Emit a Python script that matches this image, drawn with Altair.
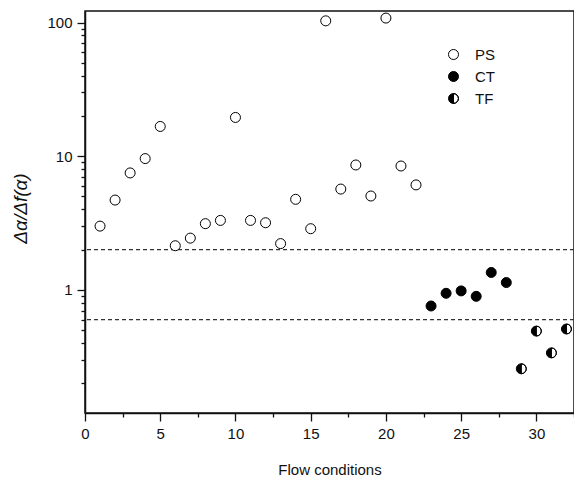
import altair as alt
import pandas as pd

# ---- data ----
ps_x = list(range(1, 23))
ps_y = [3.0, 4.7, 7.5, 9.6, 16.7, 2.14, 2.44, 3.13, 3.31, 19.5, 3.31, 3.18,
        2.22, 4.76, 2.87, 103, 5.68, 8.6, 5.04, 108, 8.45, 6.1]
ct_x = [23, 24, 25, 26, 27, 28]
ct_y = [0.758, 0.943, 0.983, 0.895, 1.35, 1.135]
tf_x = [29, 30, 31, 32]
tf_y = [0.257, 0.492, 0.338, 0.51]
thresholds = [2.0, 0.6]

groups = ["PS", "CT", "TF"]
x_ticks = [0, 2.5, 5, 7.5, 10, 12.5, 15, 17.5, 20, 22.5, 25, 27.5, 30, 32.5]
y_ticks = [0.2, 0.3, 0.4, 0.5, 0.6, 0.7, 0.8, 0.9,
           1, 2, 3, 4, 5, 6, 7, 8, 9,
           10, 20, 30, 40, 50, 60, 70, 80, 90, 100]

rows = ([{"x": a, "y": b, "type": "PS"} for a, b in zip(ps_x, ps_y)] +
        [{"x": a, "y": b, "type": "CT"} for a, b in zip(ct_x, ct_y)] +
        [{"x": a, "y": b, "type": "TF"} for a, b in zip(tf_x, tf_y)])
df = pd.DataFrame(rows)
df_lines = pd.DataFrame({"y": thresholds})

FONT = "Liberation Sans"
half_shape = ("M 0 -1 A 1 1 0 0 0 0 1 Z "
              "M 0 -1 A 1 1 0 0 1 0 1 L 0 0.97 A 0.97 0.97 0 0 0 0 -0.97 Z")

x_scale = alt.Scale(domain=[0, 32.5], nice=False, zero=False)
y_scale = alt.Scale(type="log", domain=[0.12, 122], nice=False)

x_axis = alt.Axis(
    values=x_ticks, title="Flow conditions",
    labelExpr="datum.value % 5 == 0 ? datum.label : ''",
    tickSize={"condition": {"test": "datum.value % 5 == 0", "value": 8}, "value": 4},
    labelFlush=False, labelOverlap=False, labelPadding=5,
    titlePadding=21, grid=False)

major = "abs(log(datum.value)/LN10 - round(log(datum.value)/LN10)) < 0.001"
y_axis = alt.Axis(
    values=y_ticks, title="Δα/Δf(α)",
    labelExpr=f"{major} ? format(datum.value, 'd') : ''",
    tickSize={"condition": {"test": major, "value": 8}, "value": 4},
    labelOverlap=False, labelPadding=5, grid=False,
    titleX=-65, titleY=197, titleAngle=270, titleBaseline="middle",
    titleAlign="center", titleFontStyle="italic", titleFontSize=19)

legend = alt.Legend(title=None, orient="none", legendX=361, legendY=36,
                    padding=0, rowPadding=6, labelOffset=14,
                    symbolSize=100, symbolStrokeWidth=1, symbolOpacity=1,
                    labelFontSize=15, labelFont=FONT, labelColor="#111")

lines = alt.Chart(df_lines).mark_rule(
    color="#333", strokeWidth=1.2, strokeDash=[4, 3]
).encode(y=alt.Y("y:Q", scale=y_scale, axis=y_axis))

points = alt.Chart(df).mark_point(
    filled=True, strokeWidth=1, opacity=1, size=100
).encode(
    x=alt.X("x:Q", scale=x_scale, axis=x_axis),
    y=alt.Y("y:Q", scale=y_scale, axis=y_axis),
    shape=alt.Shape("type:N", scale=alt.Scale(domain=groups,
                    range=["circle", "circle", half_shape]), legend=legend),
    fill=alt.Fill("type:N", scale=alt.Scale(domain=groups,
                  range=["white", "black", "black"]), legend=legend),
    stroke=alt.Stroke("type:N", scale=alt.Scale(domain=groups,
                      range=["black", "black", "black"]), legend=legend),
)

chart = alt.layer(lines, points).properties(
    width=489, height=402,
    autosize=alt.AutoSizeParams(type="none"),
    padding={"left": 77, "top": 3, "right": 0, "bottom": 64},
).configure_view(
    stroke="#111", strokeWidth=1.5
).configure_axis(
    domainColor="#111", domainWidth=1.5, tickColor="#111", tickWidth=1.3,
    labelFont=FONT, labelFontSize=15, labelColor="#111",
    titleFont=FONT, titleFontSize=15, titleColor="#111", titleFontWeight="normal"
)

chart.save("out.html", embed_options={"renderer": "svg", "actions": False})
